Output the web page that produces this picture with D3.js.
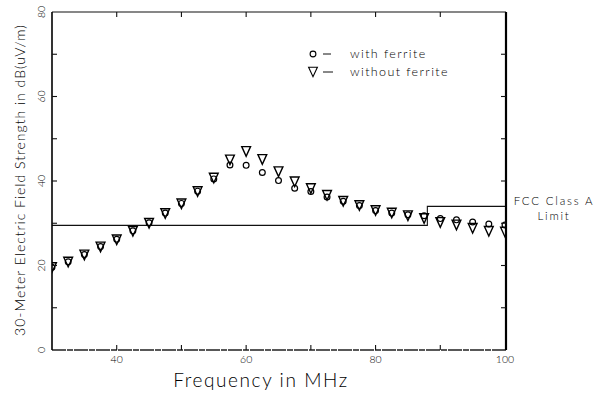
<!DOCTYPE html>
<html>
<head>
<meta charset="utf-8">
<script src="https://cdn.jsdelivr.net/npm/d3@7"></script>
<style>
  html, body { margin: 0; padding: 0; background: #fff; }
  svg { display: block; }
  text { font-family: Lato, "Open Sans", sans-serif; font-weight: 300; fill: #000; }
</style>
</head>
<body>
<svg id="chart" width="607" height="394"></svg>
<script>
// ---- data ----
const frequencies = [30, 32.5, 35, 37.5, 40, 42.5, 45, 47.5, 50, 52.5, 55, 57.5, 60, 62.5, 65,
  67.5, 70, 72.5, 75, 77.5, 80, 82.5, 85, 87.5, 90, 92.5, 95, 97.5, 100];
const withoutFerrite = [19.5, 20.8, 22.5, 24.4, 26.1, 28.1, 30.0, 32.3, 34.6, 37.5, 40.7, 45.0, 47.0, 45.1, 42.2,
  39.8, 38.2, 36.6, 35.2, 34.2, 33.0, 32.4, 31.8, 31.1, 30.2, 29.6, 28.8, 28.1, 27.9];
const withFerrite = [19.6, 20.9, 22.6, 24.5, 26.2, 28.2, 30.1, 32.4, 34.7, 37.6, 40.5, 43.8, 43.7, 42.0, 40.1,
  38.3, 37.5, 36.2, 35.2, 34.2, 33.0, 32.4, 32.0, 31.8, 31.1, 30.8, 30.3, 29.8, 29.6];
// FCC Class A limit (30 m): step function
const limitFreq = [30, 88, 88, 100];
const limitLevel = [29.5, 29.5, 34, 34];
const xTickLabels = [40, 60, 80, 100];
const yTickLabels = [0, 20, 40, 60, 80];
const xMinorTicks = [40, 50, 60, 70, 80, 90];
const yMinorTicks = [10, 20, 30, 40, 50, 60, 70];
const legendLabels = ["with ferrite", "without ferrite"];

(function () {
// ---- layout ----
const svg = d3.select("#chart");
const pL = 52, pR = 506, pT = 12, pB = 350;
const x = d3.scaleLinear().domain([30, 100]).range([pL, pR - 1]);
const y = d3.scaleLinear().domain([0, 80]).range([pB, pT]);

svg.append("defs").append("clipPath").attr("id", "plotclip")
  .append("rect").attr("x", pL).attr("y", pT).attr("width", pR - pL).attr("height", pB - pT);

// limit line
const limitData = limitFreq.map((f, i) => [f, limitLevel[i]]);
svg.append("path")
  .attr("d", d3.line().x(d => x(d[0])).y(d => y(d[1]))(limitData))
  .attr("fill", "none").attr("stroke", "#111").attr("stroke-width", 1.1);

// markers
const g = svg.append("g").attr("clip-path", "url(#plotclip)");
const triPath = (cx, cy) => {
  const w = 4.4, h = 4.8;
  return `M${cx - w},${cy - h}L${cx + w},${cy - h}L${cx},${cy + h}Z`;
};
g.selectAll("path.tri").data(frequencies).join("path")
  .attr("class", "tri")
  .attr("d", (f, i) => triPath(x(f), y(withoutFerrite[i])))
  .attr("fill", "none").attr("stroke", "#000").attr("stroke-width", 1.4);
g.selectAll("circle.cir").data(frequencies).join("circle")
  .attr("class", "cir")
  .attr("cx", f => x(f)).attr("cy", (f, i) => y(withFerrite[i]))
  .attr("r", 2.9)
  .attr("fill", "none").attr("stroke", "#000").attr("stroke-width", 1.2);

// frame
svg.append("line").attr("x1", pL).attr("x2", pR).attr("y1", pT).attr("y2", pT).attr("stroke", "#111").attr("stroke-width", 1.2);
svg.append("line").attr("x1", pL).attr("x2", pR).attr("y1", pB).attr("y2", pB).attr("stroke", "#222").attr("stroke-width", 1.3).attr("stroke-dasharray", "14,1,6,1");
svg.append("line").attr("x1", pL).attr("x2", pL).attr("y1", pT).attr("y2", pB).attr("stroke", "#000").attr("stroke-width", 1.6);
svg.append("line").attr("x1", pR).attr("x2", pR).attr("y1", pT).attr("y2", pB).attr("stroke", "#000").attr("stroke-width", 2.2);

// ticks (inward)
const tk = svg.append("g").attr("stroke", "#111").attr("stroke-width", 1.1);
xMinorTicks.forEach(v => {
  tk.append("line").attr("x1", x(v)).attr("x2", x(v)).attr("y1", pB).attr("y2", pB - 5);
  tk.append("line").attr("x1", x(v)).attr("x2", x(v)).attr("y1", pT).attr("y2", pT + 5);
});
yMinorTicks.forEach(v => {
  tk.append("line").attr("x1", pL).attr("x2", pL + 5).attr("y1", y(v)).attr("y2", y(v));
  tk.append("line").attr("x1", pR).attr("x2", pR - 5).attr("y1", y(v)).attr("y2", y(v));
});

// tick labels
svg.selectAll("text.xt").data(xTickLabels).join("text")
  .attr("class", "xt").attr("x", d => x(d)).attr("y", 363)
  .attr("text-anchor", "middle").attr("font-size", 10.5).text(d => d);
svg.selectAll("text.yt").data(yTickLabels).join("text")
  .attr("class", "yt")
  .attr("transform", d => `translate(45,${y(d)}) rotate(-90)`)
  .attr("text-anchor", "middle").attr("font-size", 10.5).text(d => d);

// axis titles
svg.append("text").attr("x", 261).attr("y", 387).attr("text-anchor", "middle")
  .attr("font-size", 19).attr("letter-spacing", 1.6).text("Frequency in MHz");
svg.append("text").attr("transform", "translate(25,180) rotate(-90)").attr("text-anchor", "middle")
  .attr("font-size", 14).attr("letter-spacing", 1.0).text("30-Meter Electric Field Strength in dB(uV/m)");

// legend
const lg = svg.append("g");
lg.append("circle").attr("cx", 313).attr("cy", 54).attr("r", 2.9)
  .attr("fill", "none").attr("stroke", "#000").attr("stroke-width", 1.1);
lg.append("path").attr("d", triPath(313, 72)).attr("fill", "none").attr("stroke", "#000").attr("stroke-width", 1.1);
lg.append("line").attr("x1", 323).attr("x2", 331).attr("y1", 54).attr("y2", 54).attr("stroke", "#111");
lg.append("line").attr("x1", 323).attr("x2", 333).attr("y1", 72).attr("y2", 72).attr("stroke", "#111");
lg.selectAll("text.lt").data(legendLabels).join("text")
  .attr("class", "lt").attr("x", 350).attr("y", (d, i) => 58 + i * 18)
  .attr("font-size", 12.5).attr("letter-spacing", 1.4).text(d => d);

// FCC label
svg.append("text").attr("x", 554).attr("y", 205).attr("text-anchor", "middle")
  .attr("font-size", 11.5).attr("letter-spacing", 1.8).text("FCC Class A");
svg.append("text").attr("x", 554).attr("y", 220).attr("text-anchor", "middle")
  .attr("font-size", 11.5).attr("letter-spacing", 1.8).text("Limit");
})();
</script>
</body>
</html>
